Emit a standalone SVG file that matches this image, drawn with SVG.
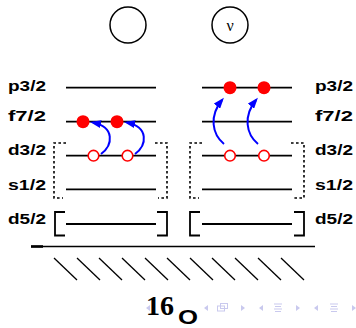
<svg xmlns="http://www.w3.org/2000/svg" width="356" height="328" viewBox="0 0 356 328">
<style>
.lvl{stroke:#000;stroke-width:1.8;fill:none}
.lab{font-family:"Liberation Sans",Arial,sans-serif;font-weight:bold;font-size:15px;fill:#000}
.dot{stroke:#000;stroke-width:1.6;fill:none;stroke-dasharray:2.6 2.4}
.brk{stroke:#000;stroke-width:1.8;fill:none}
.full{fill:#ff0000}
.hole{fill:#fff;stroke:#ff0000;stroke-width:1.6}
.arr{stroke:#0000ff;stroke-width:2;fill:none;marker-end:url(#ah)}
.hatch{stroke:#000;stroke-width:1.3}
.nav{fill:#c9c9ee;stroke:none}
.navl{stroke:#c9c9ee;stroke-width:1;fill:none}
</style>
<defs>
<marker id="ah" markerUnits="userSpaceOnUse" markerWidth="11" markerHeight="8" refX="8" refY="4" orient="auto">
<path d="M0,0 L11,4 L0,8 Z" fill="#0000ff"/>
</marker>
</defs>
<rect width="356" height="328" fill="#fff"/>

<g id="proton-orbit"><circle cx="128" cy="25" r="18" fill="none" stroke="#000" stroke-width="1.5"/></g>
<g id="neutron-orbit"><circle cx="230" cy="25" r="18" fill="none" stroke="#000" stroke-width="1.5"/>
<text x="230" y="30.5" text-anchor="middle" font-family="Liberation Serif,serif" font-size="16">ν</text></g>

<g id="labels-left">
<text class="lab" x="8" y="91" textLength="38" lengthAdjust="spacingAndGlyphs">p3/2</text>
<text class="lab" x="8" y="121" textLength="38" lengthAdjust="spacingAndGlyphs">f7/2</text>
<text class="lab" x="8" y="155" textLength="38" lengthAdjust="spacingAndGlyphs">d3/2</text>
<text class="lab" x="8" y="190" textLength="38" lengthAdjust="spacingAndGlyphs">s1/2</text>
<text class="lab" x="8" y="224" textLength="38" lengthAdjust="spacingAndGlyphs">d5/2</text>
</g>
<g id="labels-right">
<text class="lab" x="315" y="91" textLength="38" lengthAdjust="spacingAndGlyphs">p3/2</text>
<text class="lab" x="315" y="121" textLength="38" lengthAdjust="spacingAndGlyphs">f7/2</text>
<text class="lab" x="315" y="155" textLength="38" lengthAdjust="spacingAndGlyphs">d3/2</text>
<text class="lab" x="315" y="190" textLength="38" lengthAdjust="spacingAndGlyphs">s1/2</text>
<text class="lab" x="315" y="224" textLength="38" lengthAdjust="spacingAndGlyphs">d5/2</text>
</g>

<g id="proton-levels">
<line class="lvl" x1="66" y1="87.7" x2="156" y2="87.7"/>
<line class="lvl" x1="66" y1="121.7" x2="156" y2="121.7"/>
<line class="lvl" x1="66" y1="155.7" x2="156" y2="155.7"/>
<line class="lvl" x1="66" y1="189.3" x2="156" y2="189.3"/>
<line class="lvl" x1="66" y1="224" x2="156" y2="224"/>
</g>
<g id="neutron-levels">
<line class="lvl" x1="202" y1="87.7" x2="292" y2="87.7"/>
<line class="lvl" x1="202" y1="121.7" x2="292" y2="121.7"/>
<line class="lvl" x1="202" y1="155.7" x2="292" y2="155.7"/>
<line class="lvl" x1="202" y1="189.3" x2="292" y2="189.3"/>
<line class="lvl" x1="202" y1="224" x2="292" y2="224"/>
</g>

<g id="proton-sd-box">
<path class="dot" d="M66,143 H54 V198 H63"/>
<path class="dot" d="M155,143 H167 V198 H158"/>
</g>
<g id="neutron-sd-box">
<path class="dot" d="M202,143 H190 V198 H199"/>
<path class="dot" d="M291,143 H304 V198 H294"/>
</g>
<g id="proton-core">
<path class="brk" d="M65,212 H55 V235.5 H65"/>
<path class="brk" d="M157,212 H167 V235.5 H157"/>
</g>
<g id="neutron-core">
<path class="brk" d="M200,212 H190 V235.5 H200"/>
<path class="brk" d="M294,212 H304 V235.5 H294"/>
</g>

<g id="particles">
<circle class="full" cx="83" cy="121.7" r="6.5"/>
<circle class="full" cx="117" cy="121.7" r="6.5"/>
<circle class="full" cx="230" cy="87.7" r="6.5"/>
<circle class="full" cx="264" cy="87.7" r="6.5"/>
<circle class="hole" cx="93.5" cy="155.7" r="5.3"/>
<circle class="hole" cx="127.5" cy="155.7" r="5.3"/>
<circle class="hole" cx="230" cy="155.7" r="5.3"/>
<circle class="hole" cx="264" cy="155.7" r="5.3"/>
</g>

<g id="connectors">
<path class="arr" d="M101,154 C113,145 115,127 93,122.5"/>
<path class="arr" d="M135,154 C147,145 149,127 127,122.5"/>
<path class="arr" d="M224,144 C212,134 209,116 222,100"/>
<path class="arr" d="M258,144 C246,134 243,116 256,100"/>
</g>

<g id="ground">
<line x1="31" y1="246.5" x2="315" y2="246.5" stroke="#000" stroke-width="1.4"/>
<line x1="31" y1="246.5" x2="43" y2="246.5" stroke="#000" stroke-width="2.6"/>
<g class="hatch">
<line x1="54" y1="258" x2="77" y2="280"/>
<line x1="77" y1="258" x2="100" y2="280"/>
<line x1="99" y1="258" x2="122" y2="280"/>
<line x1="122" y1="258" x2="145" y2="280"/>
<line x1="145" y1="258" x2="168" y2="280"/>
<line x1="167" y1="258" x2="190" y2="280"/>
<line x1="190" y1="258" x2="213" y2="280"/>
<line x1="212" y1="258" x2="235" y2="280"/>
<line x1="235" y1="258" x2="258" y2="280"/>
<line x1="258" y1="258" x2="281" y2="280"/>
<line x1="281" y1="258" x2="304" y2="280"/>
</g>
</g>

<g id="nav">
<polygon class="nav" points="150,305 146,308 150,311"/>
<polygon class="nav" points="208,305 204,308 208,311"/>
<rect class="navl" x="217.5" y="306" width="7" height="5"/>
<rect class="navl" x="220.5" y="303.5" width="7" height="5" fill="#fff"/>
<polygon class="nav" points="241,305 245,308 241,311"/>
<polygon class="nav" points="263,305 259,308 263,311"/>
<path class="navl" d="M274,304 H282 M275,306.5 H281 M274,309 H282 M275,311.5 H281"/>
<polygon class="nav" points="296,305 300,308 296,311"/>
<polygon class="nav" points="318,305 314,308 318,311"/>
<path class="navl" d="M330,304 H338 M331,306.5 H337 M330,309 H338 M331,311.5 H337"/>
<polygon class="nav" points="352,305 356,308 352,311"/>
</g>

<g id="nucleus-label">
<text x="146" y="315" font-family="Liberation Serif,serif" font-weight="bold" font-size="28">16</text>
<text x="178" y="323.5" font-family="Liberation Sans,Arial,sans-serif" font-weight="bold" font-size="21" textLength="20" lengthAdjust="spacingAndGlyphs">O</text>
</g>
</svg>
